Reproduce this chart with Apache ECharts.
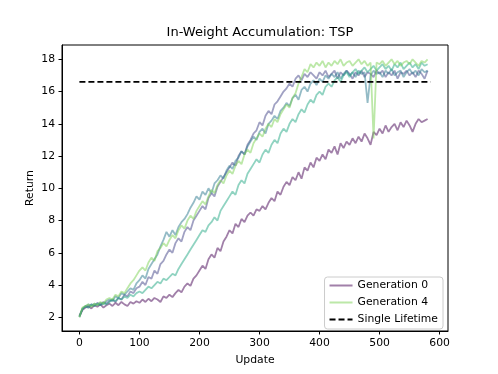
<!DOCTYPE html>
<html>
<head>
<meta charset="UTF-8">
<title>In-Weight Accumulation: TSP</title>
<script src="https://cdn.jsdelivr.net/npm/echarts@6/dist/echarts.min.js"></script>
<style>
  html, body { margin: 0; padding: 0; background: #fff; }
  #main { width: 498px; height: 374px; }
</style>
</head>
<body>
<div id="main"></div>
<script>
// updates 0..580, step 5
var updates = [];
for (var u = 0; u <= 580; u += 5) updates.push(u);

var xTicks = [0, 100, 200, 300, 400, 500, 600];
var yTicks = [2, 4, 6, 8, 10, 12, 14, 16, 18];
var singleLifetime = 16.6;

var gen0 = [
    2.05, 2.45, 2.6, 2.7, 2.55, 2.75, 2.65, 2.8, 2.6, 2.75,
    2.85, 2.7, 2.9, 2.75, 2.95, 2.8, 2.7, 2.95, 2.85, 3.0,
    2.9, 3.1, 2.95, 3.15, 3.0, 3.2, 3.1, 2.95, 3.3, 3.2,
    3.4, 3.25, 3.5, 3.7, 3.55, 3.9, 4.1, 3.95, 4.4, 4.6,
    4.9, 5.2, 5.0, 5.6, 5.9, 5.7, 6.3, 6.1, 6.7, 7.0,
    7.4, 7.2, 7.8, 7.6, 8.1, 7.9, 8.3, 8.5, 8.3, 8.7,
    8.6, 8.9, 8.7, 9.1, 9.4, 9.2, 9.8, 9.6, 10.1, 10.4,
    10.2, 10.7, 10.5, 11.0, 10.6, 11.3, 11.1, 11.6, 11.3, 11.9,
    11.7, 12.1, 11.8, 12.4, 12.2, 12.6, 12.1, 12.8, 12.5, 12.9,
    12.7, 13.1, 12.8, 13.2, 12.9, 13.4, 13.1, 12.7, 13.5, 13.3,
    13.7, 13.4, 13.9, 13.5, 13.8, 14.0, 13.6, 14.1, 13.8, 14.2,
    13.9, 13.5, 14.0, 14.3, 14.1, 14.2, 14.3
];
var gen1 = [
    2.1, 2.5, 2.7, 2.6, 2.8, 2.7, 2.9, 2.75, 2.95, 2.85,
    3.0, 3.1, 2.95, 3.2, 3.1, 3.4, 3.3, 3.6, 3.5, 3.8,
    3.9, 4.2, 4.0, 4.5, 4.4, 4.9, 4.7, 5.3, 5.5, 5.9,
    6.2, 6.0, 6.6, 6.9, 6.7, 7.3, 7.6, 7.4, 8.0, 8.3,
    8.6, 8.9, 8.7, 9.4, 9.7, 9.5, 10.1, 10.4, 10.7, 11.0,
    11.3, 11.6, 11.4, 12.0, 12.3, 12.1, 12.7, 13.0, 13.4, 13.6,
    14.1, 13.9, 14.5, 14.8, 14.6, 15.2, 15.4, 15.7, 16.0, 16.2,
    16.5, 16.3, 16.8, 17.0, 16.7, 17.1, 16.9, 17.2, 17.0, 16.8,
    17.2, 17.0, 17.3, 16.9, 17.1, 17.3, 16.8, 17.2, 17.0, 17.3,
    17.1, 16.8, 17.2, 17.0, 17.3, 16.9, 17.2, 17.1, 16.9, 17.3,
    17.1, 17.3, 16.9, 17.2, 17.0, 17.3, 16.8, 17.2, 17.1, 17.3,
    17.0, 17.2, 16.9, 17.3, 17.1, 16.8, 17.3
];
var gen2 = [
    2.0, 2.55, 2.65, 2.8, 2.7, 2.85, 2.75, 2.9, 2.8, 3.0,
    3.1, 3.0, 3.3, 3.2, 3.5, 3.4, 3.6, 3.8, 3.7, 4.1,
    4.3, 4.6, 4.4, 5.0, 5.3, 5.6, 5.9, 6.4, 6.8, 7.3,
    7.0, 7.4, 7.1, 7.6, 7.9, 8.1, 8.4, 8.8, 9.1, 9.5,
    9.3, 9.8, 9.6, 10.0, 9.7, 10.3, 10.5, 10.8, 10.6, 11.1,
    11.4, 11.2, 11.7, 11.9, 12.3, 12.1, 12.6, 12.9, 13.2, 13.0,
    13.5, 13.7, 13.4, 14.0, 14.2, 14.5, 14.3, 14.8, 15.0, 15.3,
    15.1, 15.6, 15.8, 15.5, 16.1, 16.3, 16.0, 16.5, 16.7, 16.4,
    16.8, 16.6, 17.0, 16.8, 17.1, 16.9, 17.2, 16.8, 17.1, 17.3,
    17.0, 17.2, 16.9, 17.3, 17.1, 17.2, 15.3, 17.0, 17.3, 17.1,
    17.2, 16.9, 17.3, 17.1, 17.4, 17.0, 17.2, 17.3, 16.9, 17.2,
    17.4, 17.1, 17.3, 17.0, 17.4, 17.2, 17.3
];
var gen3 = [
    2.05, 2.5, 2.7, 2.6, 2.8, 2.7, 2.85, 2.75, 2.9, 2.8,
    2.95, 3.1, 3.0, 3.2, 3.1, 3.3, 3.2, 3.4, 3.3, 3.5,
    3.6, 3.5, 3.7, 3.9, 3.8, 4.0, 4.2, 4.1, 4.4, 4.3,
    4.5, 4.7, 4.6, 5.0, 5.3, 5.6, 5.9, 6.2, 6.5, 6.8,
    7.1, 7.4, 7.3, 7.7, 7.9, 8.2, 8.0, 8.6, 8.9, 9.2,
    9.5, 9.8, 9.6, 10.2, 10.5, 10.3, 10.9, 11.2, 11.5, 11.8,
    11.6, 12.1, 12.4, 12.2, 12.7, 13.0, 12.8, 13.4, 13.7, 13.5,
    14.0, 14.3, 14.1, 14.6, 14.9, 14.7, 15.2, 15.5, 15.3, 15.8,
    16.0, 15.8, 16.3, 16.5, 16.3, 16.7, 16.9, 16.6, 17.0, 17.2,
    16.9, 17.2, 17.4, 17.1, 17.3, 17.5, 17.2, 17.4, 17.6, 17.3,
    17.5, 17.7, 17.4, 17.6, 17.3, 17.7, 17.5, 17.8, 17.4, 17.6,
    17.8, 17.5, 17.7, 17.4, 17.8, 17.6, 17.7
];
var gen4 = [
    2.0, 2.6, 2.7, 2.8, 2.65, 2.85, 2.75, 2.95, 2.85, 3.1,
    3.2, 3.1, 3.4, 3.3, 3.6, 3.5, 3.8, 4.1, 4.3, 4.6,
    4.9, 5.1, 4.9, 5.4, 5.7, 5.5, 6.1, 6.3, 6.6, 6.4,
    6.8, 7.1, 6.9, 7.4, 7.7, 7.5, 8.0, 8.3, 8.1, 8.6,
    8.9, 9.2, 9.0, 9.5, 9.9, 9.7, 10.2, 10.5, 10.3, 10.8,
    11.1, 10.9, 11.4, 11.7, 11.5, 12.1, 12.4, 12.2, 12.8, 13.1,
    13.4, 13.2, 13.7, 14.0, 13.8, 14.3, 14.1, 14.6, 14.9, 15.2,
    15.0, 15.6, 15.9, 16.5, 16.9, 17.4, 17.2, 17.7, 17.5, 17.8,
    17.6, 17.9, 17.5, 17.8, 17.6, 17.9, 17.7, 18.0, 17.6, 17.8,
    17.9, 17.6, 17.8, 18.0, 17.7, 17.9, 17.6, 17.8, 13.1, 17.8,
    17.7, 17.9, 17.6, 17.8, 18.0, 17.7, 17.9, 17.6, 17.8, 17.9,
    17.7, 18.0, 17.8, 17.6, 17.9, 17.8, 18.0
];

var gens = [gen0, gen1, gen2, gen3, gen4];
var colors = ['#440154', '#414487', '#2a788e', '#22a884', '#7ad151'];

var font = 'DejaVu Sans';

function pairs(vals) {
    return vals.map(function (v, i) { return [updates[i], v]; });
}

var series = gens.map(function (g, i) {
    return {
        name: 'Generation ' + i,
        type: 'line',
        data: pairs(g),
        symbol: 'none',
        color: colors[i],
        lineStyle: { width: 1.8, opacity: 0.5, color: colors[i] },
        silent: true,
        z: 2 + i
    };
});

series.push({
    name: 'Single Lifetime',
    type: 'line',
    data: [[updates[0], singleLifetime], [585, singleLifetime]],
    symbol: 'none',
    color: '#000',
    lineStyle: { width: 1.6, type: [6, 3], color: '#000' },
    silent: true,
    z: 10
});

var axisFont = { fontFamily: font, fontSize: 10.8, color: '#000' };

var chart = echarts.init(document.getElementById('main'), null, { renderer: 'canvas' });
chart.setOption({
    animation: false,
    backgroundColor: '#fff',
    title: {
        text: 'In-Weight Accumulation: TSP',
        left: 255,
        textAlign: 'center',
        top: 21,
        textStyle: { fontFamily: font, fontSize: 13, fontWeight: 'normal', color: '#000' }
    },
    grid: {
        left: 62, right: 50, top: 45, bottom: 43,
        show: true, borderColor: '#000', borderWidth: 1
    },
    legend: {
        data: ['Generation 0', 'Generation 4', 'Single Lifetime'],
        orient: 'vertical',
        right: 55,
        top: 277,
        padding: [3, 5, 4, 4],
        itemWidth: 23,
        itemHeight: 10,
        itemGap: 6,
        itemStyle: { opacity: 0 },
        backgroundColor: '#fff',
        borderColor: '#ccc',
        borderWidth: 1,
        borderRadius: 3,
        textStyle: axisFont,
        z: 20
    },
    xAxis: {
        type: 'value',
        min: -29,
        max: 614,
        name: 'Update',
        nameLocation: 'middle',
        nameGap: 24,
        nameMoveOverlap: false,
        nameTextStyle: axisFont,
        axisLine: { onZero: false, lineStyle: { color: '#000' } },
        axisTick: { show: true, length: 3.5, customValues: xTicks, lineStyle: { color: '#000' } },
        axisLabel: Object.assign({ customValues: xTicks, margin: 7 }, axisFont),
        splitLine: { show: false }
    },
    yAxis: {
        type: 'value',
        min: 1.15,
        max: 18.89,
        name: 'Return',
        nameLocation: 'middle',
        nameGap: 26,
        nameMoveOverlap: false,
        nameTextStyle: axisFont,
        axisLine: { show: true, onZero: false, lineStyle: { color: '#000' } },
        axisTick: { show: true, length: 3.5, customValues: yTicks, lineStyle: { color: '#000' } },
        axisLabel: Object.assign({ customValues: yTicks, margin: 7 }, axisFont),
        splitLine: { show: false }
    },
    series: series
});
</script>
</body>
</html>
